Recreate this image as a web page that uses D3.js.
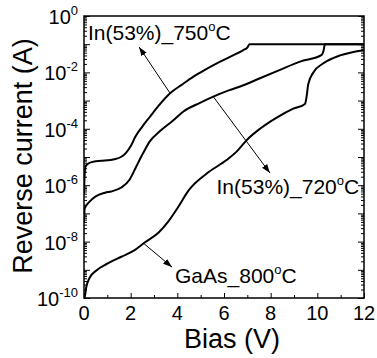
<!DOCTYPE html>
<html>
<head>
<meta charset="utf-8">
<script src="https://cdn.jsdelivr.net/npm/d3@7/dist/d3.min.js"></script>
<style>
  html, body { margin: 0; padding: 0; background: #fff; }
  svg { display: block; }
  text { font-family: "Liberation Sans", Arial, sans-serif; fill: #000; }
</style>
</head>
<body>
<svg id="chart" width="377" height="358"></svg>
<script>
// Reverse I-V characteristics (bias in V, current in A)
const bias750 = [0, 0.03, 0.06, 0.2, 0.5, 1.0, 1.3, 1.6, 1.8, 2.0, 2.2, 2.5, 2.83, 3.2, 3.69, 4.2, 4.69, 5.2, 5.69, 6.3, 6.83, 7.0, 7.1, 12];
const current750 = [5.0e-7, 2.5e-6, 4.5e-6, 6.0e-6, 7.1e-6, 7.6e-6, 8.3e-6, 1.02e-5, 1.41e-5, 2.4e-5, 5.2e-5, 1.2e-4, 2.7e-4, 6.6e-4, 1.82e-3, 3.7e-3, 7.1e-3, 1.26e-2, 2.1e-2, 3.7e-2, 6.2e-2, 7.6e-2, 0.1, 0.1];

const bias720 = [0, 0.03, 0.24, 0.5, 0.9, 1.17, 1.6, 1.96, 2.24, 2.53, 2.82, 3.26, 3.83, 4.26, 4.97, 5.54, 6.2, 6.83, 7.54, 8.4, 9.26, 10.19, 10.26, 10.33, 12];
const current720 = [5.0e-8, 1.5e-7, 2.6e-7, 4.0e-7, 5.4e-7, 6.0e-7, 8.3e-7, 1.6e-6, 4.6e-6, 1.35e-5, 3.6e-5, 8.3e-5, 2.0e-4, 4.1e-4, 8.3e-4, 1.38e-3, 2.3e-3, 3.5e-3, 6.2e-3, 1.23e-2, 2.4e-2, 4.2e-2, 5.6e-2, 0.1, 0.1];

const biasGaAs = [0, 0.03, 0.1, 0.24, 0.53, 1.0, 1.6, 2.17, 2.6, 3.2, 3.6, 4.03, 4.5, 5.26, 6.11, 6.54, 7.0, 7.54, 8.26, 8.97, 9.47, 9.54, 9.61, 9.83, 10.26, 10.97, 11.5, 12];
const currentGaAs = [1.0e-10, 1.1e-10, 2.5e-10, 5.2e-10, 9.5e-10, 1.66e-9, 2.9e-9, 5.0e-9, 9.3e-9, 2.1e-8, 5.0e-8, 1.66e-7, 6.8e-7, 2.6e-6, 7.8e-6, 1.55e-5, 4.2e-5, 1.0e-4, 2.5e-4, 5.2e-4, 7.6e-4, 1.38e-3, 3.8e-3, 1.0e-2, 2.1e-2, 4.0e-2, 5.2e-2, 6.3e-2];

const xTicks = [0, 2, 4, 6, 8, 10, 12];
const yTickExponents = [0, -2, -4, -6, -8, -10];

// Annotation labels: label prefix, label anchor (V, A), arrow tail (V, A), arrow head (V, A)
const labelNames = ["In(53%)_750", "In(53%)_720", "GaAs_800"];
const labelPos = [[0.17, 1.4e-1], [5.68, 4.9e-7], [3.9, 3.4e-10]];
const arrowTail = [[3.69, 1.82e-3], [5.54, 1.38e-3], [2.53, 9.0e-9]];
const arrowHead = [[2.36, 8.0e-2], [7.97, 2.7e-6], [3.77, 1.25e-9]];

const W = 377, H = 358;
const margin = { left: 84, top: 16, right: 13, bottom: 60 };
const pw = W - margin.left - margin.right;
const ph = H - margin.top - margin.bottom;

const svg = d3.select("#chart");
const g = svg.append("g").attr("transform", `translate(${margin.left},${margin.top})`);

const x = d3.scaleLinear().domain([0, 12]).range([0, pw]);
const y = d3.scaleLog().domain([1e-10, 1]).range([ph, 0]);

const defs = svg.append("defs");
defs.append("clipPath").attr("id", "plotClip")
  .append("rect").attr("x", 0).attr("y", -2).attr("width", pw).attr("height", ph + 2);

defs.append("marker")
  .attr("id", "head").attr("viewBox", "0 0 10 10")
  .attr("refX", 10).attr("refY", 5)
  .attr("markerWidth", 9).attr("markerHeight", 9)
  .attr("markerUnits", "userSpaceOnUse")
  .attr("orient", "auto")
  .append("path").attr("d", "M0,1.5 L10,5 L0,8.5 Z").attr("fill", "#000");

// Curves
const line = d3.line()
  .x(d => x(d[0]))
  .y(d => y(d[1]))
  .curve(d3.curveMonotoneX);

const series = [
  d3.zip(bias750, current750),
  d3.zip(bias720, current720),
  d3.zip(biasGaAs, currentGaAs)
];

g.append("g").attr("clip-path", "url(#plotClip)")
  .selectAll("path").data(series).join("path")
  .attr("d", line)
  .attr("fill", "none")
  .attr("stroke", "#000")
  .attr("stroke-width", 2)
  .attr("stroke-linejoin", "round");

// Axes: ticks point inward
const xAxisMajor = d3.axisBottom(x).tickValues(xTicks).tickSizeInner(-5).tickSizeOuter(0).tickFormat("");
const xAxisMinor = d3.axisBottom(x).tickValues(d3.range(1, 12, 2)).tickSizeInner(-3).tickSizeOuter(0).tickFormat("");
g.append("g").attr("transform", `translate(0,${ph})`).call(xAxisMajor);
g.append("g").attr("transform", `translate(0,${ph})`).call(xAxisMinor);

const decades = d3.range(-10, 1).map(e => Math.pow(10, e));
const minors = [];
for (let e = -10; e < 0; e++) for (let m = 2; m <= 9; m++) minors.push(m * Math.pow(10, e));

g.append("g").call(d3.axisLeft(y).tickValues(decades).tickSizeInner(-6).tickSizeOuter(0).tickFormat(""));
g.append("g").call(d3.axisLeft(y).tickValues(minors).tickSizeInner(-3).tickSizeOuter(0).tickFormat(""));
g.append("g").attr("transform", `translate(${pw},0)`).call(d3.axisRight(y).tickValues(decades).tickSizeInner(-6).tickSizeOuter(0).tickFormat(""));
g.append("g").attr("transform", `translate(${pw},0)`).call(d3.axisRight(y).tickValues(minors).tickSizeInner(-3).tickSizeOuter(0).tickFormat(""));

g.selectAll(".domain").remove();
g.selectAll(".tick line").attr("stroke", "#000").attr("stroke-width", 1);

// Frame
g.append("rect").attr("x", 0).attr("y", 0).attr("width", pw).attr("height", ph)
  .attr("fill", "none").attr("stroke", "#000").attr("stroke-width", 1.5);

// Tick labels
g.selectAll(".xlab").data(xTicks).join("text")
  .attr("class", "xlab")
  .attr("x", d => x(d)).attr("y", ph + 22)
  .attr("text-anchor", "middle").attr("font-size", 20)
  .text(d => d);

const ylab = g.selectAll(".ylab").data(yTickExponents).join("text")
  .attr("class", "ylab")
  .attr("x", -6).attr("y", d => y(Math.pow(10, d)) + 8)
  .attr("text-anchor", "end").attr("font-size", 20);
ylab.append("tspan").text("10");
ylab.append("tspan").attr("font-size", 13).attr("dy", -9).text(d => d === 0 ? "0" : "-" + Math.abs(d));

// Axis titles
svg.append("text")
  .attr("x", 232).attr("y", 348)
  .attr("text-anchor", "middle").attr("font-size", 27)
  .text("Bias (V)");

svg.append("text")
  .attr("transform", `translate(32,156) rotate(-90)`)
  .attr("text-anchor", "middle").attr("font-size", 27)
  .text("Reverse current (A)");

// Annotations
const ann = g.append("g");
labelNames.forEach((name, i) => {
  ann.append("line")
    .attr("x1", x(arrowTail[i][0])).attr("y1", y(arrowTail[i][1]))
    .attr("x2", x(arrowHead[i][0])).attr("y2", y(arrowHead[i][1]))
    .attr("stroke", "#000").attr("stroke-width", 1)
    .attr("marker-end", "url(#head)");
  const t = ann.append("text")
    .attr("x", x(labelPos[i][0])).attr("y", y(labelPos[i][1]))
    .attr("font-size", 21);
  t.append("tspan").text(name);
  t.append("tspan").attr("font-size", 13).attr("dy", -9).text("o");
  t.append("tspan").attr("dy", 9).text("C");
});
</script>
</body>
</html>
